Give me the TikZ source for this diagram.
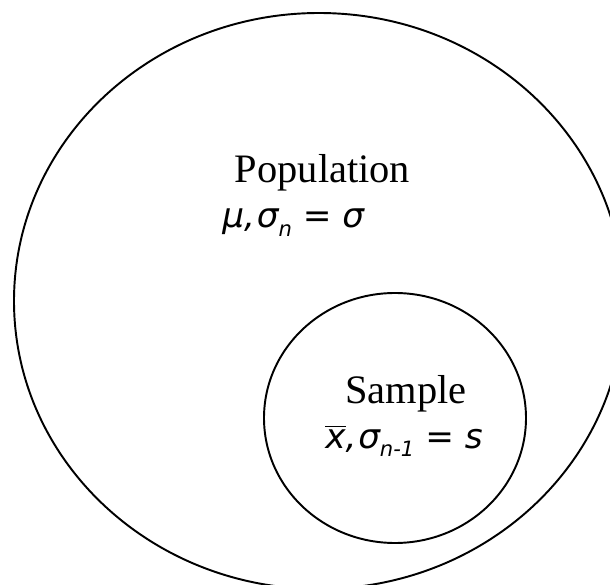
\documentclass[tikz,border=0pt]{standalone}
\usepackage{fontspec}
\setmainfont{Liberation Serif}
\newfontfamily\formfont{DejaVu Sans}
\usepackage{tikz}

\newcommand{\lowsub}[1]{\raisebox{-0.45ex}{\fontsize{12}{14}\selectfont #1}}

\tikzset{
  setname/.style={font=\fontsize{23}{27}\selectfont, anchor=base, inner sep=0pt},
  setstat/.style={font=\formfont\itshape\fontsize{19.5}{24}\selectfont, anchor=base west, inner sep=0pt},
}

\begin{document}
\begin{tikzpicture}
\useasboundingbox (0,0) rectangle (12.2,11.68);
\clip (0,0) rectangle (12.2,11.68);
% population and sample
\draw[line width=1.1pt] (6.38,5.66) ellipse (6.10 and 5.76);
\draw[line width=1.1pt] (7.90,3.32) ellipse (2.62 and 2.50);
\node[setname] (popname) at (6.45,8.02) {Population};
\node[setstat] (popstat) at (4.44,7.12) {μ,\kern1pt σ\lowsub{n} = σ};
\node[setname] (smpname) at (8.12,3.62) {Sample};
\node[setstat] (smpstat) at (6.50,2.72) {$\overline{\mbox{x}}$,\kern1pt σ\lowsub{n-1} = s};
\end{tikzpicture}
\end{document}
